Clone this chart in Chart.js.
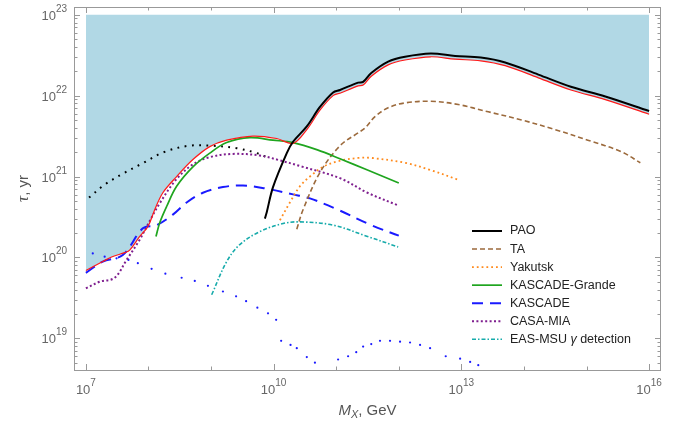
<!DOCTYPE html>
<html>
<head>
<meta charset="utf-8">
<script src="https://cdn.jsdelivr.net/npm/chart.js@4.4.1/dist/chart.umd.min.js"></script>
<style>
  body { margin: 0; background: #fff; }
</style>
</head>
<body>
<canvas id="chart" width="678" height="424"></canvas>
<script>
// all values are log10: x = log10(M_X / GeV), y = log10(tau / yr)
const paoX = [9.86, 9.89, 9.99, 10.21, 10.31, 10.53, 10.74, 10.95, 11.06, 11.35, 11.43, 11.56, 11.83, 12.10, 12.51, 12.90, 13.31, 13.70, 14.23, 14.75, 15.30, 16.0];
const paoY = [20.48, 20.56, 20.87, 21.29, 21.43, 21.62, 21.86, 22.04, 22.07, 22.16, 22.17, 22.28, 22.42, 22.48, 22.52, 22.49, 22.47, 22.41, 22.26, 22.11, 21.99, 21.81];

const boundX = [7.0, 7.27, 7.42, 7.62, 7.70, 7.86, 7.99, 8.10, 8.23, 8.45, 8.71, 8.98, 9.25, 9.67, 10.05, 10.31, 10.53, 10.74, 10.95, 11.06, 11.35, 11.43, 11.56, 11.83, 12.10, 12.51, 12.90, 13.31, 13.70, 14.23, 14.75, 15.30, 16.0];
const boundY = [19.84, 19.95, 20.01, 20.06, 20.09, 20.26, 20.38, 20.59, 20.80, 21.00, 21.21, 21.37, 21.45, 21.50, 21.47, 21.41, 21.58, 21.82, 22.00, 22.03, 22.12, 22.13, 22.24, 22.38, 22.44, 22.48, 22.45, 22.43, 22.37, 22.22, 22.07, 21.95, 21.77];

const taX = [10.37, 10.47, 10.74, 11.06, 11.35, 11.46, 11.62, 11.83, 12.1, 12.51, 12.95, 13.43, 13.96, 14.5, 15.02, 15.55, 15.86];
const taY = [20.35, 20.59, 21.05, 21.38, 21.54, 21.60, 21.74, 21.85, 21.91, 21.93, 21.89, 21.80, 21.70, 21.58, 21.45, 21.31, 21.17];

const yakX = [10.1, 10.26, 10.42, 10.58, 10.79, 11.03, 11.35, 11.56, 12.10, 12.51, 12.95];
const yakY = [20.46, 20.68, 20.88, 21.0, 21.12, 21.19, 21.23, 21.23, 21.17, 21.08, 20.96];

const kgX = [8.12, 8.18, 8.29, 8.45, 8.71, 8.98, 9.25, 9.62, 9.99, 10.31, 10.7, 11.06, 11.5, 12.0];
const kgY = [20.26, 20.43, 20.63, 20.88, 21.12, 21.29, 21.42, 21.48, 21.45, 21.42, 21.33, 21.22, 21.08, 20.92];

const kasX = [7.0, 7.27, 7.59, 7.91, 8.13, 8.39, 8.61, 8.87, 9.19, 9.51, 9.89, 10.31, 10.58, 11.0, 11.56, 12.0];
const kasY = [19.81, 19.95, 20.03, 20.36, 20.40, 20.53, 20.68, 20.80, 20.87, 20.89, 20.85, 20.78, 20.73, 20.60, 20.40, 20.27];

const casaX = [7.0, 7.22, 7.46, 7.65, 7.86, 7.97, 8.18, 8.45, 8.71, 8.98, 9.35, 9.78, 10.1, 10.42, 11.06, 11.5, 12.0];
const casaY = [19.62, 19.70, 19.75, 19.97, 20.22, 20.38, 20.67, 20.97, 21.15, 21.24, 21.28, 21.26, 21.2, 21.13, 20.98, 20.80, 20.64];

const easX = [9.01, 9.25, 9.46, 9.78, 10.15, 10.42, 10.95, 11.5, 11.99];
const easY = [19.54, 19.95, 20.16, 20.32, 20.42, 20.44, 20.40, 20.26, 20.13];

const dotBlackX = [7.05, 7.3, 7.6, 7.92, 8.24, 8.64, 9.03, 9.41, 9.73, 9.89];
const dotBlackY = [20.74, 20.90, 21.04, 21.17, 21.30, 21.38, 21.38, 21.35, 21.29, 21.24];

const dotBlueX = [7.11, 7.30, 7.49, 7.68, 7.83, 8.05, 8.27, 8.53, 8.74, 8.95, 9.19, 9.40, 9.56, 9.74, 9.91, 10.04, 10.12, 10.27, 10.37, 10.53, 10.66, 11.03, 11.19, 11.32, 11.43, 11.56, 11.70, 11.86, 12.02, 12.18, 12.34, 12.50, 12.75, 12.98, 13.14, 13.27];
const dotBlueY = [20.05, 20.01, 19.99, 19.97, 19.93, 19.86, 19.80, 19.75, 19.71, 19.65, 19.58, 19.52, 19.46, 19.38, 19.31, 19.23, 18.97, 18.92, 18.88, 18.77, 18.70, 18.74, 18.78, 18.83, 18.90, 18.93, 18.97, 18.97, 18.96, 18.95, 18.92, 18.88, 18.78, 18.75, 18.71, 18.67];

const xLabelExps = [7, 10, 13, 16];
const yLabelExps = [19, 20, 21, 22, 23];
const legendNames = ["PAO", "TA", "Yakutsk", "KASCADE-Grande", "KASCADE", "CASA-MIA", "EAS-MSU γ detection"];

const pts = (xs, ys) => xs.map((v, i) => ({ x: 10 ** v, y: 10 ** ys[i] }));

const FONT = '"Liberation Sans", Arial, sans-serif';

function line(label, xs, ys, color, width, dash) {
  return {
    label: label,
    data: pts(xs, ys),
    borderColor: color,
    borderWidth: width,
    borderDash: dash || [],
    pointRadius: 0,
    fill: false,
    tension: 0.35
  };
}

const datasets = [
  line("PAO", paoX, paoY, "#000000", 2),
  Object.assign(line("bound", boundX, boundY, "#ff1a1a", 1.2), {
    fill: { value: 1e23 },
    backgroundColor: "#b1d8e5"
  }),
  line("KASCADE-Grande", kgX, kgY, "#1fa51f", 1.7),
  line("TA", taX, taY, "#9c6a3c", 1.6, [5, 3]),
  line("Yakutsk", yakX, yakY, "#ff8a1c", 1.8, [1.8, 3]),
  line("KASCADE", kasX, kasY, "#1a1aff", 2, [11, 7]),
  line("CASA-MIA", casaX, casaY, "#7f1f8f", 2, [2, 2.4]),
  line("EAS-MSU γ detection", easX, easY, "#17abab", 1.6, [4, 2, 1.5, 2]),
  line("dots black", dotBlackX, dotBlackY, "#000000", 2, [1.8, 5.5]),
  {
    label: "dots blue",
    data: pts(dotBlueX, dotBlueY),
    showLine: false,
    pointRadius: 1.1,
    pointBorderWidth: 0,
    pointBackgroundColor: "#1a1aff"
  }
];

function drawPow(ctx, exp, x, y, align) {
  ctx.font = "13px " + FONT;
  const w1 = ctx.measureText("10").width;
  ctx.font = "10px " + FONT;
  const w2 = ctx.measureText(String(exp)).width;
  const left = align === "right" ? x - w1 - w2 : x - (w1 + w2) / 2;
  ctx.textAlign = "left";
  ctx.textBaseline = "alphabetic";
  ctx.font = "13px " + FONT;
  ctx.fillText("10", left, y);
  ctx.font = "10px " + FONT;
  ctx.fillText(String(exp), left + w1, y - 8);
}

const frame = {
  id: "frame",
  afterDraw(chart) {
    const { ctx, chartArea: a, scales } = chart;
    const xs = scales.x, ys = scales.y;
    ctx.save();

    // frame
    ctx.strokeStyle = "#999";
    ctx.lineWidth = 1;
    ctx.strokeRect(a.left + 0.5, a.top + 0.5, a.right - a.left - 1, a.bottom - a.top);

    // x ticks, inward, top and bottom
    ctx.beginPath();
    for (let e = 7; e <= 16; e++) {
      const px = Math.round(xs.getPixelForValue(10 ** e)) + 0.5;
      const len = xLabelExps.includes(e) ? 6 : 3.5;
      ctx.moveTo(px, a.bottom); ctx.lineTo(px, a.bottom - len);
      ctx.moveTo(px, a.top); ctx.lineTo(px, a.top + len);
    }
    // y ticks, inward, left and right
    for (let e = 18; e <= 23; e++) {
      for (let m = 1; m <= 9; m++) {
        const v = m * 10 ** e;
        if (v < ys.min || v > ys.max) continue;
        const py = Math.round(ys.getPixelForValue(v)) + 0.5;
        const len = m === 1 ? 6 : 3.5;
        ctx.moveTo(a.left, py); ctx.lineTo(a.left + len, py);
        ctx.moveTo(a.right, py); ctx.lineTo(a.right - len, py);
      }
    }
    ctx.stroke();

    // tick labels
    ctx.fillStyle = "#666";
    xLabelExps.forEach(e => drawPow(ctx, e, xs.getPixelForValue(10 ** e), a.bottom + 24, "center"));
    yLabelExps.forEach(e => drawPow(ctx, e, a.left - 7, ys.getPixelForValue(10 ** e) + 5, "right"));

    // axis titles
    ctx.fillStyle = "#555";
    ctx.textBaseline = "alphabetic";
    ctx.font = "italic 15px " + FONT;
    const wM = ctx.measureText("M").width;
    ctx.font = "italic 11px " + FONT;
    const wX = ctx.measureText("X").width;
    ctx.font = "15px " + FONT;
    const wG = ctx.measureText(", GeV").width;
    let tx = (a.left + a.right) / 2 - (wM + wX + wG) / 2;
    const ty = 415;
    ctx.textAlign = "left";
    ctx.font = "italic 15px " + FONT;
    ctx.fillText("M", tx, ty);
    ctx.font = "italic 11px " + FONT;
    ctx.fillText("X", tx + wM, ty + 3);
    ctx.font = "15px " + FONT;
    ctx.fillText(", GeV", tx + wM + wX, ty);

    ctx.save();
    ctx.translate(28, (a.top + a.bottom) / 2);
    ctx.rotate(-Math.PI / 2);
    ctx.font = "italic 17px 'Liberation Serif', serif";
    const wT = ctx.measureText("τ").width;
    ctx.font = "15px " + FONT;
    const wY = ctx.measureText(", yr").width;
    let rx = -(wT + wY) / 2;
    ctx.font = "italic 17px 'Liberation Serif', serif";
    ctx.fillText("τ", rx, 0);
    ctx.font = "15px " + FONT;
    ctx.fillText(", yr", rx + wT, 0);
    ctx.restore();

    // legend
    const lx = 472, lw = 30, rowH = 18.05, ly = 231;
    legendNames.forEach((name, i) => {
      const ds = chart.data.datasets.find(d => d.label === name);
      const y = ly + i * rowH;
      ctx.save();
      ctx.strokeStyle = ds.borderColor;
      ctx.lineWidth = ds.borderWidth;
      ctx.setLineDash(ds.borderDash);
      ctx.beginPath();
      ctx.moveTo(lx, y); ctx.lineTo(lx + lw, y);
      ctx.stroke();
      ctx.restore();

      ctx.fillStyle = "#222";
      ctx.textBaseline = "middle";
      ctx.textAlign = "left";
      if (name.includes("γ")) {
        const parts = name.split("γ");
        ctx.font = "12.5px " + FONT;
        ctx.fillText(parts[0], 510, y);
        let w = ctx.measureText(parts[0]).width;
        ctx.font = "italic 12.5px " + FONT;
        ctx.fillText("γ", 510 + w, y);
        w += ctx.measureText("γ").width;
        ctx.font = "12.5px " + FONT;
        ctx.fillText(parts[1], 510 + w, y);
      } else {
        ctx.font = "12.5px " + FONT;
        ctx.fillText(name, 510, y);
      }
    });

    ctx.restore();
  }
};

new Chart(document.getElementById("chart"), {
  type: "line",
  data: { datasets: datasets },
  options: {
    responsive: false,
    animation: false,
    devicePixelRatio: 1,
    layout: { padding: { left: 74, right: 17, top: 7, bottom: 54 } },
    scales: {
      x: { type: "logarithmic", display: false, min: 10 ** 6.81, max: 10 ** 16.19 },
      y: { type: "logarithmic", display: false, min: 10 ** 18.61, max: 10 ** 23.095 }
    },
    plugins: {
      legend: { display: false },
      tooltip: { enabled: false },
      filler: { drawTime: "beforeDatasetsDraw" }
    }
  },
  plugins: [frame]
});
</script>
</body>
</html>
